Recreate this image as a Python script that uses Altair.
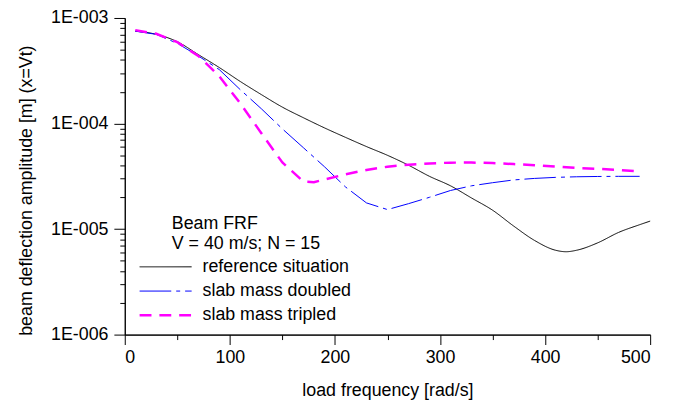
import altair as alt
import pandas as pd

# ---------------- data ----------------
ref_x = [10, 30, 50, 70, 90, 110, 130, 150, 170, 190, 210, 230, 250, 270, 290,
         310, 330, 350, 370, 390, 410, 420, 430, 450, 470, 490, 500]
ref_y = [7.5e-4, 7.0e-4, 5.96e-4, 4.5e-4, 3.39e-4, 2.5e-4, 1.88e-4, 1.43e-4,
         1.135e-4, 9.1e-5, 7.4e-5, 6.05e-5, 5.0e-5, 4.03e-5, 3.16e-5, 2.57e-5,
         1.97e-5, 1.51e-5, 1.07e-5, 7.8e-6, 6.3e-6, 6.1e-6, 6.3e-6, 7.4e-6,
         9.3e-6, 1.1e-5, 1.19e-5]

dbl_x = [10, 30, 50, 70, 90, 110, 130, 150, 170, 190, 210, 230, 250, 270, 290,
         310, 330, 350, 370, 390, 410, 430, 450, 470, 490]
dbl_y = [7.5e-4, 7.0e-4, 5.75e-4, 4.37e-4, 3.24e-4, 2.09e-4, 1.38e-4, 8.9e-5,
         5.9e-5, 3.9e-5, 2.51e-5, 1.77e-5, 1.53e-5, 1.74e-5, 2.0e-5, 2.32e-5,
         2.57e-5, 2.75e-5, 2.92e-5, 3.02e-5, 3.09e-5, 3.13e-5, 3.15e-5,
         3.16e-5, 3.16e-5]

tri_x = [10, 30, 50, 70, 90, 110, 130, 150, 170, 180, 190, 210, 230, 250, 270,
         290, 310, 330, 350, 370, 390, 410, 430, 450, 470, 490]
tri_y = [7.67e-4, 7.08e-4, 5.9e-4, 4.37e-4, 2.8e-4, 1.55e-4, 8.1e-5, 4.27e-5,
         2.82e-5, 2.78e-5, 2.95e-5, 3.3e-5, 3.63e-5, 3.9e-5, 4.07e-5, 4.19e-5,
         4.26e-5, 4.27e-5, 4.22e-5, 4.13e-5, 4.03e-5, 3.91e-5, 3.79e-5,
         3.72e-5, 3.63e-5, 3.52e-5]

series_names = ["reference situation", "slab mass doubled", "slab mass tripled"]
legend_title = ["Beam FRF", "V = 40 m/s; N = 15"]

x_major = [0, 100, 200, 300, 400, 500]
x_minor = [50, 150, 250, 350, 450]
y_major = [1e-6, 1e-5, 1e-4, 1e-3]
y_minor = [m * 10.0 ** e for e in (-6, -5, -4) for m in range(2, 10)]

# ---------------- styling ----------------
FONT = "Liberation Sans"
FS = 18
colors = ["#000000", "#0000ff", "#ff00ff"]
dashes = [[1, 0], [32, 5, 4, 5], [12, 8]]
widths = [1, 1, 2.5]
interps = ["monotone", "linear", "linear"]

frames = [
    pd.DataFrame({"freq": ref_x, "amp": ref_y}),
    pd.DataFrame({"freq": dbl_x, "amp": dbl_y}),
    pd.DataFrame({"freq": tri_x, "amp": tri_y}),
]
all_df = pd.concat(frames, ignore_index=True)

xscale = alt.Scale(domain=[0, 500], nice=False, zero=False)
yscale = alt.Scale(type="log", domain=[1e-6, 1e-3], nice=False)

axis_common = dict(domainColor="black", tickColor="black", grid=False,
                   labelColor="black", labelFont=FONT, titleFont=FONT,
                   titleColor="black", titleFontWeight="normal")

major = alt.Chart(all_df).mark_point(opacity=0).encode(
    x=alt.X("freq:Q", scale=xscale, axis=alt.Axis(
        orient="bottom", values=x_major, tickSize=10, labelFontSize=FS,
        labelPadding=4, format="d", title="load frequency [rad/s]",
        titleFontSize=FS, titleX=265.5, titleY=57, titleBaseline="middle",
        titleAlign="center", **axis_common)),
    y=alt.Y("amp:Q", scale=yscale, axis=alt.Axis(
        orient="left", values=y_major, tickSize=11, labelFontSize=FS,
        labelPadding=6,
        labelExpr="'1E-00' + abs(round(log(datum.value) / LN10))",
        title="beam deflection amplitude [m] (x=Vt)", titleFontSize=FS,
        titleAngle=270, titleX=-99, titleY=174, titleBaseline="middle",
        titleAlign="center", **axis_common)),
)

minor = alt.Chart(all_df).mark_point(opacity=0).encode(
    x=alt.X("freq:Q", scale=xscale, axis=alt.Axis(
        orient="bottom", values=x_minor, tickSize=5, labels=False,
        title=None, **axis_common)),
    y=alt.Y("amp:Q", scale=yscale, axis=alt.Axis(
        orient="left", values=y_minor, tickSize=5, labels=False,
        title=None, **axis_common)),
)

layers = [major, minor]
for df, c, d, w, ip in zip(frames, colors, dashes, widths, interps):
    layers.append(
        alt.Chart(df).mark_line(color=c, strokeDash=d, strokeWidth=w,
                                interpolate=ip).encode(
            x=alt.X("freq:Q", scale=xscale, axis=None),
            y=alt.Y("amp:Q", scale=yscale, axis=None),
        )
    )

# legend block (drawn as annotations)
layers.append(
    alt.Chart(pd.DataFrame({"t": [legend_title]})).mark_text(
        align="left", baseline="top", font=FONT, fontSize=FS, color="black",
        lineHeight=20.5).encode(
        x=alt.value(47.5), y=alt.value(199), text="t:N")
)
for i, (name, c, d, w) in enumerate(zip(series_names, colors, dashes, widths)):
    yy = 251.5 + 24.5 * i
    layers.append(
        alt.Chart(pd.DataFrame({"n": [name]})).mark_rule(
            color=c, strokeDash=d, strokeWidth=w).encode(
            x=alt.value(15), x2=alt.value(67.6), y=alt.value(yy))
    )
    layers.append(
        alt.Chart(pd.DataFrame({"n": [name]})).mark_text(
            align="left", baseline="middle", font=FONT, fontSize=FS,
            color="black").encode(
            x=alt.value(78.6), y=alt.value(yy), text="n:N")
    )

chart = alt.layer(*layers).resolve_scale(
    x="shared", y="shared"
).resolve_axis(
    x="independent", y="independent"
).properties(
    width=531, height=320,
    autosize=alt.AutoSizeParams(type="none"),
    padding={"left": 118, "top": 8, "right": 15, "bottom": 65},
).configure_view(stroke=None)

chart.save("out.html", embed_options={"renderer": "svg", "actions": False})
